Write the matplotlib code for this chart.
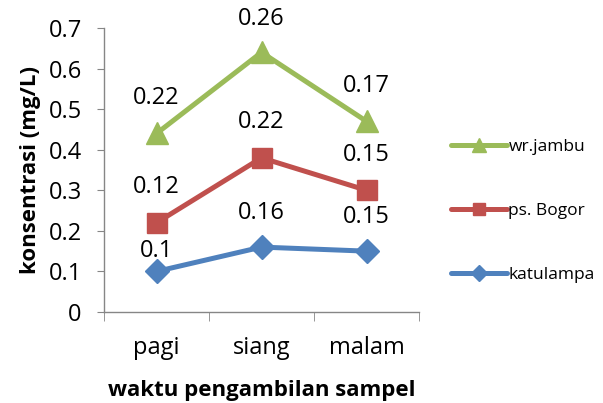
import matplotlib
matplotlib.use("Agg")
import matplotlib.pyplot as plt
import numpy as np

categories = ["pagi", "siang", "malam"]
katulampa = [0.10, 0.16, 0.15]
ps_bogor = [0.12, 0.22, 0.15]
wr_jambu = [0.22, 0.26, 0.17]
series_names = ["katulampa", "ps. Bogor", "wr.jambu"]
yticks = [0, 0.1, 0.2, 0.3, 0.4, 0.5, 0.6, 0.7]

plt.rcParams['font.family'] = ['Open Sans', 'DejaVu Sans']

fig = plt.figure(figsize=(6.03, 4.03), dpi=100)
ax = fig.add_axes([0.1725, 0.2258, 0.5224, 0.7047])

x = np.arange(len(categories))
series = [katulampa, ps_bogor, wr_jambu]
colors = ["#4F81BD", "#C0504D", "#9BBB59"]
markers = ["D", "s", "^"]
msizes = [12, 14, 16]
# label offsets in pixels (one label in the original sits lower)
label_offsets = [[20, 34, 34], [36, 36, 35], [35, 33, 35]]

bottom = np.zeros(len(categories))
handles = []
for vals, name, c, m, ms, offs in zip(series, series_names, colors, markers, msizes, label_offsets):
    top = bottom + np.array(vals)
    h, = ax.plot(x, top, color=c, lw=3.6, marker=m, markersize=ms, label=name,
                 solid_capstyle='round', zorder=3)
    handles.append(h)
    for xi, yi, v, off in zip(x, top, vals, offs):
        ax.annotate(f"{v:g}", (xi, yi), xytext=(0, off), textcoords="offset pixels",
                    ha="center", va="center", fontsize=17, color="black")
    bottom = top

ax.set_xlim(-0.5, 2.5)
ax.set_ylim(0, 0.7)
ax.set_yticks(yticks)
ax.set_yticklabels([f"{t:g}" for t in yticks], fontsize=17)
ax.set_xticks(x)
ax.set_xticklabels(categories, fontsize=17)
ax.set_xticks([-0.5, 0.5, 1.5, 2.5], minor=True)
ax.tick_params(axis='x', which='major', length=0, pad=17)
ax.tick_params(axis='x', which='minor', length=6.5, color="#868686", direction='out')
ax.tick_params(axis='y', length=5, color="#868686", direction='out', pad=11)
for s in ["top", "right"]:
    ax.spines[s].set_visible(False)
for s in ["left", "bottom"]:
    ax.spines[s].set_color("#868686")
    ax.spines[s].set_linewidth(1)

ax.set_ylabel("konsentrasi (mg/L)", fontsize=16, fontweight="bold", labelpad=5)
ax.set_xlabel("waktu pengambilan sampel", fontsize=16, fontweight="bold", labelpad=15)

leg = ax.legend(handles[::-1], [h.get_label() for h in handles[::-1]],
                loc="center left", bbox_to_anchor=(1.08, 0.355), frameon=False,
                fontsize=12.5, labelspacing=2.75, handlelength=3.2, handletextpad=0.1,
                markerscale=0.65, borderaxespad=0)

fig.savefig("out.png", dpi=100)
